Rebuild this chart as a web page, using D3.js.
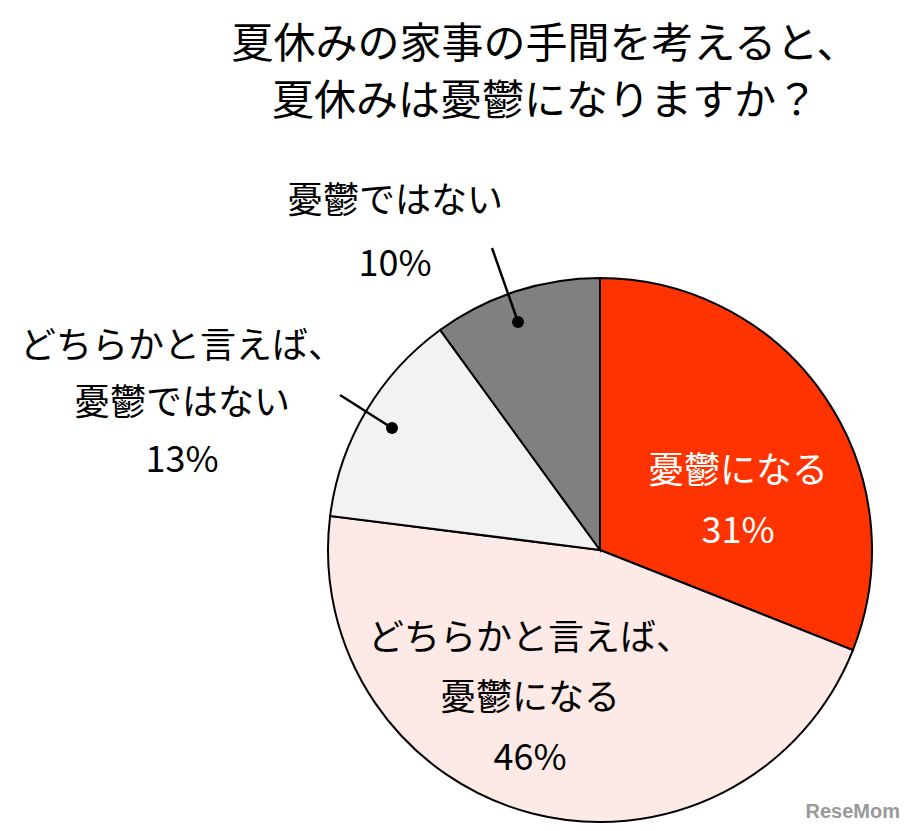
<!DOCTYPE html>
<html><head><meta charset="utf-8">
<script src="https://cdn.jsdelivr.net/npm/d3@7"></script>
<style>body{margin:0;background:#fff}</style></head>
<body><svg id="c" width="915" height="831"></svg>
<script>
const titleLines = ["夏休みの家事の手間を考えると、","夏休みは憂鬱になりますか？"];
const categories = ["憂鬱になる","どちらかと言えば、憂鬱になる","どちらかと言えば、憂鬱ではない","憂鬱ではない"];
const values = [31,46,13,10];
const colors = ["#FF3300","#FDEAE6","#F2F2F2","#808080"];

const svg = d3.select("#c");
const font = "'Noto Sans CJK JP', 'Liberation Sans', sans-serif";
svg.append("g").selectAll("text").data(titleLines).join("text")
  .attr("x",545).attr("y",(d,i)=>58+i*57).attr("text-anchor","middle")
  .attr("font-family",font).attr("font-size",42).text(d=>d);

const cx=600, cy=550, r=272;
const pie = d3.pie().sort(null).value(d=>d)(values);
const arc = d3.arc().innerRadius(0).outerRadius(r);
const g = svg.append("g").attr("transform",`translate(${cx},${cy})`);
g.selectAll("path").data(pie).join("path").attr("d",arc)
  .attr("fill",(d,i)=>colors[i]).attr("stroke","#000").attr("stroke-width",2);

function label(lines, x, y, color, lh){
  svg.append("g").selectAll("text").data(lines).join("text")
    .attr("x",x).attr("y",(d,i)=>y+i*lh).attr("text-anchor","middle")
    .attr("font-family",font).attr("font-size",36).attr("fill",color).text(d=>d);
}
label(["憂鬱になる", values[0]+"%"], 738, 483, "#fff", 60);
label(["どちらかと言えば、","憂鬱になる", values[1]+"%"], 530, 650, "#000", 60);
label(["どちらかと言えば、","憂鬱ではない", values[2]+"%"], 182, 358, "#000", 57);
label(["憂鬱ではない", values[3]+"%"], 395, 213, "#000", 63);

function leader(x1,y1,x2,y2){
  svg.append("line").attr("x1",x1).attr("y1",y1).attr("x2",x2).attr("y2",y2).attr("stroke","#000").attr("stroke-width",2.5);
  svg.append("circle").attr("cx",x2).attr("cy",y2).attr("r",6).attr("fill","#000");
}
leader(492,248,518,322);
leader(340,395,392,428);

svg.append("text").attr("x",900).attr("y",818).attr("text-anchor","end")
  .attr("font-family","'Liberation Sans', sans-serif").attr("font-weight","bold")
  .attr("font-size",20).attr("fill","#999").text("ReseMom");
</script></body></html>
